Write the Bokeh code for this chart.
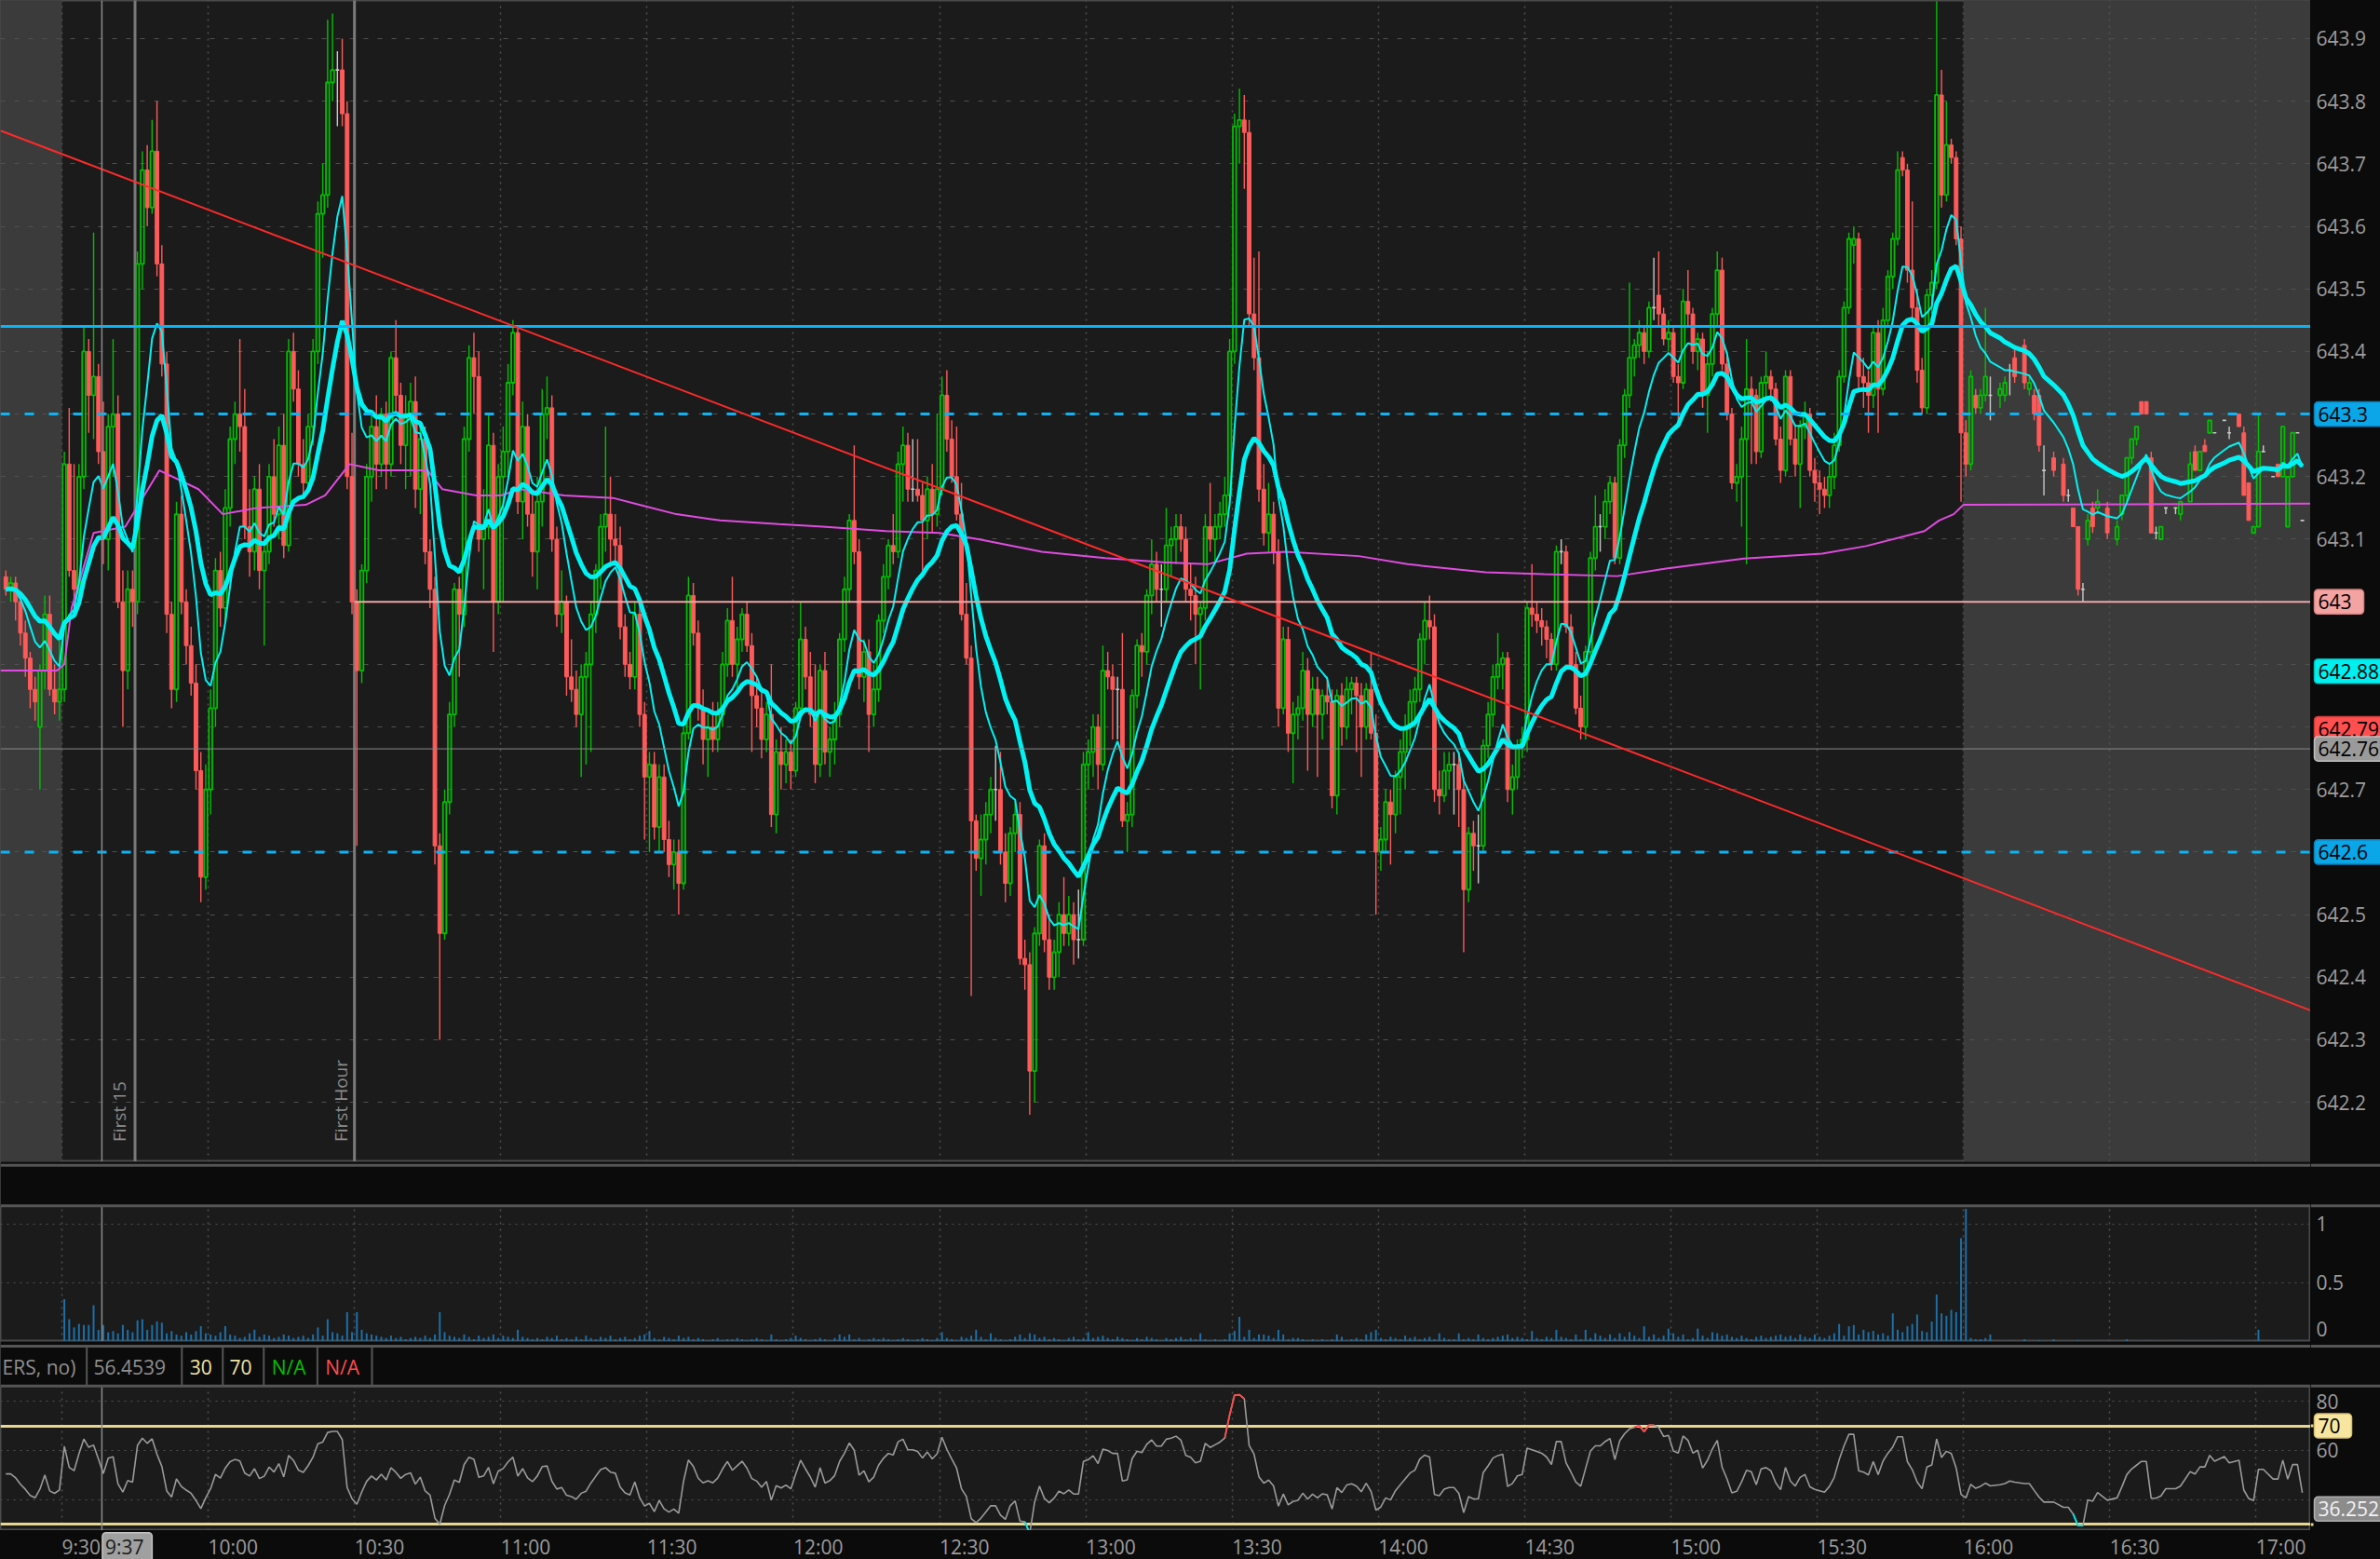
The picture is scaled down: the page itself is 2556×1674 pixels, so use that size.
import numpy as np
from bokeh.plotting import figure
from bokeh.layouts import column, row
from bokeh.models import Range1d, FixedTicker, Span
from bokeh.embed import file_html
from bokeh.resources import INLINE
from bokeh.core.properties import value

FONT = "Open Sans"

# ---------------- data (minutes counted from 9:30) ----------------
sess_minute = list(range(-12, 390))
sess_open = [
643.04,643.02,643.03,643.00,642.95,642.91,642.86,642.80,642.89,642.98,642.86,642.84,
642.86,643.22,643.05,643.02,643.20,643.40,643.33,643.36,643.24,643.10,
643.28,643.30,643.00,642.89,643.02,643.00,643.54,643.69,643.63,643.72,
643.54,643.38,642.98,642.86,643.14,643.00,642.93,642.87,642.73,642.56,
642.70,642.83,643.05,642.99,643.15,643.26,643.30,643.28,643.12,643.08,
643.18,643.05,643.08,643.20,643.14,643.25,643.09,643.40,643.34,643.22,
643.19,643.28,643.40,643.62,643.65,643.83,643.85,643.85,643.78,643.20,
643.00,642.89,643.05,643.20,643.28,643.22,643.30,643.22,643.39,643.33,
643.25,643.30,643.32,643.18,643.26,643.08,643.02,642.61,642.47,642.68,
642.82,643.02,642.98,643.26,643.39,643.36,643.10,643.12,643.25,643.00,
643.20,643.24,643.35,643.43,643.16,643.28,643.14,643.08,643.16,643.30,
643.31,643.10,642.98,643.00,642.88,642.86,642.82,642.88,642.90,642.98,
643.05,643.12,643.14,643.10,643.09,642.96,642.90,642.88,642.98,642.82,
642.72,642.74,642.64,642.72,642.62,642.58,642.60,642.55,642.79,643.01,
642.95,642.83,642.78,642.80,642.78,642.82,642.90,642.97,642.90,642.94,
642.98,642.93,642.85,642.83,642.78,642.82,642.66,642.76,642.74,642.76,
642.73,642.83,642.94,642.88,642.82,642.74,642.89,642.76,642.78,642.82,
642.94,643.02,643.13,643.08,642.88,642.92,642.82,642.86,642.97,643.04,
643.09,643.08,643.22,643.25,643.18,643.18,643.17,643.13,643.18,643.14,
643.18,643.33,643.26,643.20,643.14,642.98,642.91,642.65,642.59,642.62,
642.66,642.70,642.70,642.60,642.55,642.63,642.66,642.43,642.42,642.25,
642.47,642.61,642.46,642.40,642.44,642.50,642.47,642.50,642.46,642.46,
642.74,642.76,642.80,642.74,642.89,642.88,642.86,642.86,642.65,642.66,
642.85,642.93,642.92,643.01,643.06,643.02,643.02,643.09,643.10,643.12,
643.10,643.02,643.01,642.98,642.99,643.12,643.10,643.12,643.14,643.17,
643.40,643.76,643.77,643.75,643.46,643.39,643.18,643.11,643.14,643.08,
642.83,642.94,642.79,642.82,642.83,642.89,642.82,642.86,642.82,642.85,
642.84,642.69,642.85,642.80,642.86,642.87,642.85,642.80,642.86,642.79,
642.60,642.62,642.68,642.66,642.72,642.76,642.80,642.84,642.86,642.94,
642.97,642.96,642.70,642.69,642.73,642.74,642.74,642.70,642.54,642.63,
642.61,642.61,642.77,642.82,642.88,642.90,642.91,642.70,642.72,642.77,
642.78,642.99,642.98,642.97,642.96,642.94,642.90,643.08,643.08,642.96,
642.90,642.83,642.80,642.92,643.07,643.12,643.12,643.16,643.19,643.07,
643.25,643.33,643.39,643.41,643.43,643.40,643.47,643.49,643.46,643.42,
643.43,643.36,643.35,643.48,643.46,643.40,643.42,643.33,643.38,643.46,
643.53,643.38,643.30,643.19,643.20,643.26,643.34,643.33,643.24,643.35,
643.36,643.34,643.26,643.21,643.36,643.26,643.22,643.28,643.30,643.21,
643.19,643.18,643.17,643.20,643.25,643.36,643.47,643.57,643.58,643.36,
643.35,643.33,643.43,643.34,643.45,643.52,643.58,643.71,643.69,643.53,
643.47,643.37,643.31,643.49,643.51,643.81,643.65,643.73,643.71,643.58]
sess_high = [
643.05,643.04,643.04,643.01,642.97,642.92,642.88,642.90,643.01,643.01,642.90,642.94,
643.24,643.31,643.22,643.22,643.44,643.42,643.59,643.38,643.32,643.30,
643.42,643.33,643.05,643.05,643.05,643.56,643.72,643.73,643.77,643.80,
643.57,643.40,643.00,643.16,643.17,643.02,642.96,642.90,642.76,642.74,
642.86,643.07,643.08,643.18,643.28,643.32,643.42,643.34,643.18,643.20,
643.22,643.10,643.22,643.26,643.28,643.30,643.42,643.43,643.37,643.26,
643.30,643.42,643.64,643.70,643.93,643.94,643.88,643.90,643.80,643.27,
643.02,643.06,643.22,643.30,643.33,643.31,643.32,643.40,643.45,643.35,
643.33,643.35,643.36,643.28,643.28,643.10,643.04,642.63,642.70,642.84,
643.03,643.04,643.28,643.41,643.43,643.40,643.18,643.30,643.27,643.22,
643.28,643.38,643.45,643.44,643.32,643.30,643.18,643.20,643.34,643.36,
643.33,643.12,643.05,643.01,642.94,642.89,642.90,642.92,643.00,643.06,
643.14,643.28,643.20,643.14,643.12,642.98,642.92,643.00,643.00,642.84,
642.76,642.76,642.74,642.74,642.65,642.62,642.62,642.80,643.04,643.03,
642.97,642.86,642.82,642.84,642.84,642.92,642.99,643.04,642.96,642.99,
643.00,642.95,642.88,642.86,642.84,642.90,642.78,642.80,642.78,642.78,
642.84,643.00,642.96,642.92,642.90,642.90,642.92,642.80,642.84,642.95,
643.04,643.14,643.25,643.10,642.94,642.94,642.90,642.98,643.06,643.10,
643.14,643.24,643.28,643.27,643.26,643.26,643.19,643.20,643.22,643.30,
643.36,643.37,643.29,643.28,643.19,643.03,642.93,642.66,642.66,642.68,
642.72,642.77,642.76,642.63,642.64,642.68,642.68,642.46,642.44,642.48,
642.62,642.63,642.50,642.46,642.52,642.56,642.53,642.52,642.54,642.76,
642.78,642.82,642.82,642.93,642.92,642.90,642.88,642.95,642.68,642.86,
642.94,642.95,643.02,643.10,643.08,643.06,643.15,643.12,643.14,643.14,
643.12,643.06,643.04,643.00,643.14,643.19,643.14,643.16,643.20,643.42,
643.78,643.82,643.81,643.77,643.55,643.56,643.22,643.19,643.16,643.10,
642.96,642.96,642.84,642.85,642.92,642.91,642.88,642.88,642.86,642.88,
642.86,642.86,642.87,642.88,642.88,642.88,642.87,642.87,642.92,642.82,
642.64,642.70,642.70,642.73,642.78,642.82,642.86,642.88,642.95,643.00,
643.01,642.98,642.73,642.76,642.76,642.76,642.76,642.72,642.64,642.65,
642.66,642.78,642.84,642.90,642.95,642.92,642.92,642.74,642.78,642.80,
643.00,643.06,643.00,642.99,642.97,642.95,643.09,643.10,643.09,642.98,
642.92,642.85,642.93,643.08,643.17,643.14,643.18,643.20,643.20,643.26,
643.34,643.51,643.42,643.45,643.44,643.48,643.55,643.56,643.47,643.45,
643.44,643.38,643.50,643.53,643.47,643.43,643.43,643.40,643.47,643.56,
643.55,643.40,643.31,643.22,643.28,643.42,643.36,643.34,643.36,643.40,
643.37,643.35,643.28,643.37,643.37,643.28,643.29,643.32,643.31,643.23,
643.21,643.20,643.22,643.27,643.37,643.48,643.59,643.60,643.59,643.39,
643.37,643.44,643.45,643.47,643.53,643.59,643.72,643.72,643.70,643.64,
643.50,643.39,643.50,643.53,643.96,643.85,643.80,643.74,643.72,643.60]
sess_low = [
643.01,643.00,642.97,642.93,642.88,642.83,642.81,642.70,642.86,642.85,642.82,642.81,
642.84,643.04,642.98,643.00,643.18,643.27,643.26,643.22,643.06,643.05,
643.20,642.99,642.80,642.86,642.96,642.98,643.50,643.60,643.62,643.52,
643.36,642.95,642.83,642.84,642.98,642.90,642.85,642.70,642.52,642.54,
642.66,642.80,642.96,642.97,643.12,643.22,643.24,643.10,643.04,643.05,
643.02,642.93,643.06,643.12,643.10,643.07,643.08,643.32,643.20,643.17,
643.18,643.25,643.38,643.55,643.63,643.80,643.76,643.76,643.18,642.98,
642.61,642.87,643.03,643.16,643.18,643.20,643.18,643.20,643.30,643.22,
643.18,643.20,643.15,643.14,643.06,642.99,642.58,642.30,642.46,642.66,
642.80,642.88,642.96,643.24,643.30,643.08,643.02,643.10,642.92,642.98,
643.00,643.20,643.33,643.14,643.10,643.12,643.04,643.02,643.12,643.26,
643.08,642.96,642.95,642.85,642.84,642.80,642.72,642.74,642.76,642.95,
643.02,643.08,643.06,643.06,642.94,642.88,642.86,642.86,642.80,642.62,
642.60,642.62,642.60,642.60,642.56,642.54,642.50,642.54,642.78,642.93,
642.81,642.74,642.72,642.76,642.76,642.80,642.88,642.88,642.86,642.92,
642.92,642.76,642.80,642.75,642.76,642.64,642.63,642.70,642.71,642.70,
642.72,642.82,642.86,642.80,642.71,642.72,642.74,642.72,642.74,642.80,
642.92,643.00,643.06,642.86,642.84,642.76,642.80,642.84,642.95,643.02,
643.06,643.07,643.16,643.16,643.16,643.16,643.05,643.10,643.11,643.12,
643.17,643.24,643.19,643.13,642.97,642.90,642.37,642.57,642.53,642.58,
642.63,642.65,642.58,642.52,642.53,642.60,642.42,642.38,642.18,642.20,
642.45,642.44,642.38,642.38,642.40,642.45,642.45,642.42,642.43,642.45,
642.70,642.72,642.70,642.73,642.86,642.78,642.78,642.64,642.60,642.64,
642.83,642.88,642.90,642.98,643.00,642.96,643.00,643.04,643.06,643.08,
643.00,642.97,642.90,642.86,642.97,643.08,643.06,643.10,643.12,643.15,
643.38,643.70,643.66,643.44,643.37,643.16,643.09,643.08,643.06,642.80,
642.82,642.76,642.71,642.78,642.81,642.73,642.80,642.72,642.78,642.82,
642.67,642.66,642.77,642.78,642.82,642.76,642.72,642.78,642.78,642.50,
642.57,642.60,642.58,642.63,642.66,642.70,642.77,642.80,642.84,642.90,
642.94,642.68,642.66,642.68,642.70,642.66,642.64,642.44,642.52,642.57,
642.55,642.60,642.75,642.80,642.86,642.86,642.68,642.66,642.70,642.75,
642.76,642.96,642.95,642.93,642.91,642.89,642.89,643.06,642.95,642.89,
642.82,642.78,642.78,642.90,643.05,643.08,643.10,643.14,643.06,643.06,
643.23,643.31,643.36,643.39,643.38,643.39,643.45,643.44,643.41,643.40,
643.35,643.28,643.34,643.44,643.38,643.37,643.31,643.27,643.36,643.44,
643.37,643.29,643.18,643.16,643.12,643.06,643.22,643.22,643.23,643.32,
643.32,643.25,643.19,643.20,643.25,643.20,643.15,643.26,643.20,643.16,
643.14,643.15,643.15,643.18,643.24,643.35,643.46,643.54,643.34,643.31,
643.27,643.31,643.27,643.33,643.44,643.50,643.57,643.68,643.51,643.45,
643.35,643.30,643.30,643.46,643.50,643.63,643.64,643.70,643.57,643.16]
sess_close = [
643.02,643.03,643.00,642.95,642.91,642.86,642.84,642.89,642.98,642.86,642.84,642.86,
643.22,643.05,643.02,643.20,643.40,643.33,643.36,643.24,643.10,643.28,
643.30,643.00,642.89,643.02,643.00,643.54,643.69,643.63,643.72,643.54,
643.38,642.98,642.86,643.14,643.00,642.93,642.87,642.73,642.56,642.70,
642.83,643.05,642.99,643.15,643.26,643.30,643.28,643.12,643.08,643.18,
643.05,643.08,643.20,643.14,643.25,643.09,643.40,643.34,643.22,643.19,
643.28,643.40,643.62,643.65,643.83,643.85,643.85,643.78,643.20,643.00,
642.89,643.05,643.20,643.28,643.22,643.30,643.22,643.39,643.33,643.25,
643.30,643.32,643.18,643.26,643.08,643.02,642.61,642.47,642.68,642.82,
643.02,642.98,643.26,643.39,643.36,643.10,643.12,643.25,643.00,643.20,
643.24,643.35,643.43,643.16,643.28,643.14,643.08,643.16,643.30,643.31,
643.10,642.98,643.00,642.88,642.86,642.82,642.88,642.90,642.98,643.05,
643.12,643.14,643.10,643.09,642.96,642.90,642.88,642.98,642.82,642.72,
642.74,642.64,642.72,642.62,642.58,642.60,642.55,642.79,643.01,642.95,
642.83,642.78,642.80,642.78,642.82,642.90,642.97,642.90,642.94,642.98,
642.93,642.85,642.83,642.78,642.82,642.66,642.76,642.74,642.76,642.73,
642.83,642.94,642.88,642.82,642.74,642.89,642.76,642.78,642.82,642.94,
643.02,643.13,643.08,642.88,642.92,642.82,642.86,642.97,643.04,643.09,
643.08,643.22,643.25,643.18,643.18,643.17,643.13,643.18,643.14,643.18,
643.33,643.26,643.20,643.14,642.98,642.91,642.65,642.59,642.62,642.66,
642.70,642.70,642.60,642.55,642.63,642.66,642.43,642.42,642.25,642.47,
642.61,642.46,642.40,642.44,642.50,642.47,642.50,642.46,642.46,642.74,
642.76,642.80,642.74,642.89,642.88,642.86,642.86,642.65,642.66,642.85,
642.93,642.92,643.01,643.06,643.02,643.02,643.09,643.10,643.12,643.10,
643.02,643.01,642.98,642.99,643.12,643.10,643.12,643.14,643.17,643.40,
643.76,643.77,643.75,643.46,643.39,643.18,643.11,643.14,643.08,642.83,
642.94,642.79,642.82,642.83,642.89,642.82,642.86,642.82,642.85,642.84,
642.69,642.85,642.80,642.86,642.87,642.85,642.80,642.86,642.79,642.60,
642.62,642.68,642.66,642.72,642.76,642.80,642.84,642.86,642.94,642.97,
642.96,642.70,642.69,642.73,642.74,642.74,642.70,642.54,642.63,642.61,
642.61,642.77,642.82,642.88,642.90,642.91,642.70,642.72,642.77,642.78,
642.99,642.98,642.97,642.96,642.94,642.90,643.08,643.08,642.96,642.90,
642.83,642.80,642.92,643.07,643.12,643.12,643.16,643.19,643.07,643.25,
643.33,643.39,643.41,643.43,643.40,643.47,643.47,643.46,643.42,643.43,
643.36,643.35,643.48,643.46,643.40,643.42,643.33,643.38,643.46,643.53,
643.38,643.30,643.19,643.20,643.26,643.34,643.33,643.24,643.35,643.36,
643.34,643.26,643.21,643.36,643.26,643.22,643.28,643.30,643.21,643.19,
643.18,643.17,643.20,643.25,643.36,643.47,643.58,643.58,643.36,643.35,
643.33,643.43,643.34,643.45,643.52,643.58,643.69,643.69,643.53,643.47,
643.37,643.31,643.49,643.51,643.81,643.65,643.73,643.71,643.58,643.27]

ah_minute = [390,391,392,393,394,395,397,398,399,400,402,403,404,405,406,408,
             410,411,412,413,414,415,416,417,419,421,422,423,424,425,426,427,428,429,430,431,
             433,434,436,437,438,439,440,441,443,444,446,447,448,449,450,451,
             453,454,455,456,457,458,459]
ah_open = [643.27,643.22,643.33,643.31,643.33,643.33,643.33,643.33,643.37,643.39,643.41,643.34,643.33,643.33,643.21,643.23,
           643.22,643.17,643.15,643.12,643.02,643.10,643.15,643.15,643.15,643.10,643.14,643.17,643.23,643.26,643.32,643.32,643.23,643.11,643.10,643.15,
           643.15,643.14,643.16,643.24,643.21,643.25,643.27,643.27,643.29,643.27,643.30,643.27,643.19,643.11,643.12,643.24,
           643.20,643.22,643.20,643.12,643.20,643.27,643.13]
ah_high = [643.29,643.37,643.34,643.34,643.47,643.36,643.35,643.36,643.38,643.41,643.42,643.36,643.34,643.34,643.25,643.24,
           643.23,643.18,643.15,643.12,643.03,643.14,643.16,643.18,643.16,643.13,643.17,643.23,643.26,643.28,643.32,643.32,643.24,643.12,643.12,643.15,
           643.15,643.16,643.24,643.25,643.24,643.26,643.29,643.27,643.29,643.28,643.30,643.28,643.19,643.12,643.30,643.25,
           643.20,643.22,643.28,643.20,643.27,643.27,643.13]
ah_low = [643.20,643.21,643.30,643.30,643.32,643.29,643.31,643.32,643.33,643.35,643.34,643.33,643.29,643.24,643.17,643.20,
          643.16,643.16,643.12,643.01,643.00,643.09,643.11,643.14,643.10,643.09,643.13,643.16,643.22,643.25,643.30,643.30,643.11,643.10,643.10,643.14,
          643.14,643.13,643.16,643.21,643.21,643.24,643.27,643.27,643.29,643.26,643.28,643.17,643.13,643.11,643.12,643.24,
          643.20,643.20,643.20,643.12,643.20,643.27,643.13]
ah_close = [643.22,643.36,643.31,643.33,643.36,643.33,643.34,643.35,643.37,643.36,643.35,643.35,643.30,643.25,643.21,643.21,
            643.17,643.17,643.12,643.02,643.02,643.13,643.12,643.16,643.11,643.12,643.17,643.23,643.26,643.28,643.30,643.30,643.11,643.11,643.12,643.15,
            643.15,643.16,643.22,643.21,643.24,643.24,643.29,643.27,643.29,643.27,643.28,643.17,643.13,643.12,643.24,643.24,
            643.20,643.20,643.28,643.20,643.27,643.27,643.13]

# volume (RTH 9:30..15:59, then after hours), axis units as on the chart
rth_volume = [
0.36,0.19,0.12,0.15,0.14,0.14,0.31,0.10,0.14,0.08,
0.09,0.07,0.14,0.10,0.08,0.18,0.19,0.10,0.14,0.17,
0.16,0.07,0.09,0.06,0.05,0.08,0.06,0.09,0.13,0.07,
0.06,0.05,0.08,0.13,0.06,0.05,0.03,0.04,0.07,0.10,
0.04,0.06,0.05,0.03,0.04,0.06,0.05,0.03,0.04,0.05,
0.03,0.06,0.12,0.05,0.19,0.08,0.07,0.05,0.25,0.08,
0.25,0.10,0.07,0.06,0.05,0.04,0.03,0.05,0.03,0.04,
0.02,0.03,0.04,0.03,0.05,0.03,0.06,0.25,0.08,0.05,
0.04,0.03,0.06,0.04,0.02,0.05,0.03,0.04,0.06,0.03,
0.05,0.04,0.03,0.10,0.04,0.03,0.02,0.03,0.02,0.04,
0.03,0.05,0.02,0.03,0.02,0.04,0.02,0.05,0.03,0.02,
0.04,0.03,0.05,0.02,0.03,0.04,0.02,0.03,0.05,0.06,
0.09,0.03,0.02,0.04,0.03,0.02,0.05,0.03,0.04,0.02,
0.03,0.02,0.01,0.02,0.03,0.01,0.02,0.02,0.03,0.02,
0.01,0.02,0.03,0.02,0.01,0.06,0.02,0.01,0.02,0.03,
0.05,0.03,0.02,0.01,0.02,0.03,0.02,0.01,0.03,0.06,
0.04,0.06,0.02,0.03,0.01,0.02,0.03,0.02,0.03,0.02,
0.01,0.02,0.03,0.02,0.01,0.02,0.03,0.02,0.01,0.03,
0.08,0.03,0.02,0.01,0.04,0.03,0.05,0.10,0.04,0.02,
0.07,0.03,0.02,0.01,0.02,0.04,0.06,0.03,0.07,0.06,
0.03,0.04,0.02,0.03,0.02,0.01,0.03,0.04,0.02,0.03,
0.08,0.03,0.04,0.05,0.03,0.02,0.04,0.03,0.02,0.01,
0.03,0.02,0.04,0.03,0.02,0.01,0.03,0.02,0.03,0.04,
0.02,0.03,0.02,0.07,0.02,0.01,0.02,0.01,0.02,0.07,
0.09,0.21,0.04,0.10,0.03,0.06,0.06,0.05,0.03,0.10,
0.06,0.02,0.03,0.03,0.02,0.01,0.02,0.01,0.02,0.01,
0.02,0.06,0.04,0.01,0.02,0.03,0.02,0.06,0.08,0.10,
0.03,0.02,0.04,0.03,0.02,0.05,0.03,0.04,0.02,0.03,
0.04,0.02,0.07,0.03,0.02,0.02,0.07,0.02,0.03,0.02,
0.06,0.03,0.02,0.03,0.04,0.05,0.06,0.03,0.04,0.03,
0.02,0.09,0.03,0.02,0.04,0.03,0.10,0.04,0.03,0.02,
0.06,0.02,0.10,0.03,0.07,0.05,0.03,0.06,0.03,0.07,
0.04,0.08,0.05,0.03,0.13,0.04,0.06,0.03,0.05,0.11,
0.07,0.04,0.06,0.02,0.03,0.11,0.05,0.03,0.08,0.07,
0.05,0.06,0.04,0.03,0.05,0.03,0.02,0.04,0.05,0.03,
0.04,0.05,0.06,0.04,0.05,0.03,0.06,0.04,0.03,0.06,
0.04,0.03,0.05,0.07,0.15,0.05,0.13,0.14,0.06,0.10,
0.08,0.09,0.06,0.07,0.05,0.24,0.10,0.08,0.13,0.15,
0.23,0.09,0.08,0.17,0.40,0.24,0.22,0.27,0.25,0.88]
ah_volume = [1.13,0.03,0.02,0.02,0.03,0.06,0.005,0.005,0.005,0.005,0.02,0.005,0.005,0.01,0.005,0.02,
             0.005,0.005,0.005,0.01,0.005,0.005,0.005,0.005,0.005,0.005,0.005,0.02,0.005,0.005,0.005,0.005,0.005,0.005,0.005,0.005,
             0.005,0.005,0.005,0.005,0.005,0.005,0.005,0.005,0.005,0.005,0.005,0.005,0.005,0.005,0.10,0.005,
             0.005,0.005,0.005,0.005,0.005,0.005,0.005]

# VWAP line
vwap_minute = [-12.6,-1,0.5,2,6.5,13,20,28,33,40,50,54,59,65,75,78,85,90,94,103,113,119,126,135,147,
               156,169,180,188,201,214,226,235,243,251,266,276,292,304,319,329,345,361,370,382,385,388,390,461.2]
vwap_value = [642.89,642.89,642.90,642.99,643.11,643.12,643.21,643.18,643.14,643.15,643.155,643.17,643.22,643.21,
              643.21,643.18,643.17,643.17,643.18,643.17,643.166,643.154,643.14,643.13,643.124,643.12,643.113,643.11,
              643.10,643.08,643.07,643.063,643.06,643.077,643.08,643.073,643.06,643.047,643.044,643.041,643.053,
              643.069,643.077,643.089,643.113,643.13,643.14,643.155,643.157]

# drawings
trend_minute = [-12.6, 461.2]
trend_price = [643.753, 642.347]
level_solid = 643.44
level_dashed = [643.3, 642.6]
level_pink = 643.0
level_pink_start = 60
level_gray = 642.765

half_hours = [0, 30, 60, 90, 120, 150, 180, 210, 240, 270, 300, 330, 360, 390, 420, 450]
time_labels = ["9:30", "10:00", "10:30", "11:00", "11:30", "12:00", "12:30", "13:00", "13:30",
               "14:00", "14:30", "15:00", "15:30", "16:00", "16:30", "17:00"]
price_ticks_all = [642.2, 642.3, 642.4, 642.5, 642.6, 642.7, 642.8, 642.9, 643.0,
                   643.1, 643.2, 643.3, 643.4, 643.5, 643.6, 643.7, 643.8, 643.9]
price_ticks_shown = [642.2, 642.3, 642.4, 642.5, 642.7, 643.1, 643.2, 643.4,
                     643.5, 643.6, 643.7, 643.8, 643.9]
price_tick_text = ["642.2", "642.3", "642.4", "642.5", "642.7", "643.1", "643.2", "643.4",
                   "643.5", "643.6", "643.7", "643.8", "643.9"]
# value boxes on the price scale: (value, text, fill, text colour, border, right edge px)
price_boxes = [
    (643.3, "643.3", "#0aa6e8", "#000000", "#0a80b8", 90),
    (643.0, "643", "#f4a3a3", "#000000", "#d98080", 57),
    (642.889, "642.88", "#00f0f0", "#000000", "#00c0c0", 90),
    (642.797, "642.79", "#ff4f4f", "#000000", "#d03a3a", 90),
    (642.765, "642.76", "#9a9a9a", "#000000", "#c0c0c0", 90),
    (642.6, "642.6", "#0aa6e8", "#000000", "#0a80b8", 90),
]
vol_ticks = [0.5, 1.0]
vol_tick_text = ["0.5", "1"]
rsi_ticks = [60, 80]
rsi_tick_text = ["60", "80"]
rsi_boxes = [
    (70, "70", "#f8e6a0", "#000000", "#d8c070", 44),
    (36.252, "36.252", "#8c8c8c", "#f2f2f2", "#b0b0b0", 90),
]

# ---------------- derived series ----------------
minute = np.array(sess_minute + ah_minute, dtype=float)
o = np.array(sess_open + ah_open)
h = np.array(sess_high + ah_high)
l = np.array(sess_low + ah_low)
c = np.array(sess_close + ah_close)
xc = minute + 0.5


def ema(vals, n):
    a = 2.0 / (n + 1)
    out = [vals[0]]
    for v in vals[1:]:
        out.append(out[-1] + a * (v - out[-1]))
    return np.array(out)


def wilder_rsi(vals, n=14):
    d = np.diff(vals)
    g = np.clip(d, 0, None)
    ls = np.clip(-d, 0, None)
    ag, al = g[:n].mean(), ls[:n].mean()
    out = [np.nan]
    for gi, li in zip(g, ls):
        ag = (ag * (n - 1) + gi) / n
        al = (al * (n - 1) + li) / n
        out.append(100.0 if al == 0 else 100 - 100 / (1 + ag / al))
    out[0] = out[1]
    return np.array(out)


ema_fast = ema(c, 9)
ema_slow = ema(c, 21)
rsi_v = wilder_rsi(c)

# ---------------- layout constants ----------------
X0, X1 = -12.6, 461.2
WF = 2481          # plot frame width
WA = 75            # price-scale column width
BG = "#1b1b1b"
EDGE = "#0b0b0b"
GRIDC = "#505050"
AXC = "#9c9c9c"
SEP = "#555555"
xr = Range1d(X0, X1)


def panel(h_px, yr):
    p = figure(width=WF, height=h_px, x_range=xr, y_range=yr,
               output_backend="svg", toolbar_location=None,
               x_axis_location=None, y_axis_location=None, min_border=0,
               background_fill_color=BG, border_fill_color=EDGE,
               outline_line_color="#4a4a4a", outline_line_width=2)
    p.xgrid.ticker = FixedTicker(ticks=half_hours)
    p.xgrid.grid_line_color = GRIDC
    p.xgrid.grid_line_dash = "2 5"
    p.xgrid.grid_line_width = 1.5
    return p


def scale_col(h_px, yr):
    p = figure(width=WA, height=h_px, x_range=Range1d(0, WA), y_range=yr,
               output_backend="svg", toolbar_location=None,
               x_axis_location=None, y_axis_location=None, min_border=0,
               background_fill_color=EDGE, border_fill_color=EDGE, outline_line_color=None)
    p.grid.visible = False
    return p


def scale_text(p, ys, texts, size="21px", x=6, color=AXC, baseline="middle"):
    p.text(x=[x] * len(ys), y=ys, text=texts, text_color=color, text_align="left",
           text_baseline=baseline, text_font=value(FONT), text_font_size=size)


def scale_boxes(p, boxes, half_h):
    for v, t, fill, tc, bc, right in boxes:
        p.quad(left=[4], right=[right], bottom=[v - half_h], top=[v + half_h],
               fill_color=fill, line_color=bc, line_width=1.5, border_radius=4)
        p.text(x=[8], y=[v], text=[t], text_color=tc, text_align="left",
               text_baseline="middle", text_font=value(FONT), text_font_size="21px")


# ---------------- main price panel ----------------
yr_main = Range1d(642.105, 643.961)
pm = panel(1247, yr_main)
pm.ygrid.ticker = FixedTicker(ticks=price_ticks_all)
pm.ygrid.grid_line_color = GRIDC
pm.ygrid.grid_line_dash = "5 10"

pm.quad(left=[X0, 390], right=[0, X1], bottom=[642.0, 642.0], top=[644.1, 644.1],
        fill_color="#3b3b3b", line_color=None, level="image")

pm.segment(x0=[15, 60], y0=[642.0, 642.0], x1=[15, 60], y1=[644.1, 644.1],
           line_color="#7a7a7a", line_width=3)
pm.add_layout(Span(location=8.2, dimension="height", line_color="#8a8a8a", line_width=1.5))
pm.text(x=[14.3, 59.7], y=[642.137, 642.137], text=["First 15", "First Hour"],
        angle=np.pi / 2, text_align="left", text_baseline="bottom",
        text_font=value(FONT), text_font_size="19px", text_color="#8c8c8c")

top_b = np.maximum(o, c)
bot_b = np.minimum(o, c)
wick_col = np.where(c > o, "#00c000", np.where(c < o, "#ff5a5a", "#c8c8c8")).tolist()
pm.segment(x0=xc, y0=top_b, x1=xc, y1=h, line_width=1.4, line_color=wick_col)
pm.segment(x0=xc, y0=bot_b, x1=xc, y1=l, line_width=1.4, line_color=wick_col)
up = c > o
dn = c < o
dj = c == o
pm.vbar(x=xc[dn], bottom=bot_b[dn], top=top_b[dn], width=0.74,
        fill_color="#ff5a5a", line_color="#ff5a5a", line_width=1)
pm.vbar(x=xc[up], bottom=bot_b[up], top=top_b[up], width=0.68,
        fill_alpha=0, line_color="#00c000", line_width=1.8)
pm.vbar(x=xc[dj], bottom=bot_b[dj], top=top_b[dj], width=0.74,
        fill_color="#c8c8c8", line_color="#c8c8c8", line_width=1.6)

pm.line(vwap_minute, vwap_value, line_color="#e04ce0", line_width=2)
pm.line(xc, ema_slow, line_color="#00f2f2", line_width=5)
pm.line(xc, ema_fast, line_color="#00f2f2", line_width=2)

pm.line([X0, X1], [level_solid, level_solid], line_color="#0ab4f5", line_width=3)
for lv in level_dashed:
    pm.line([X0, X1], [lv, lv], line_color="#0ab4f5", line_width=3, line_dash="10 16")
pm.line([level_pink_start, X1], [level_pink, level_pink], line_color="#f2a6a6", line_width=2)
pm.line([X0, X1], [level_gray, level_gray], line_color="#8a8a8a", line_width=1)
pm.line(trend_minute, trend_price, line_color="#ff2a2a", line_width=2)

am = scale_col(1247, yr_main)
scale_text(am, price_ticks_shown, price_tick_text)
scale_boxes(am, price_boxes, 0.0195)

# ---------------- volume panel ----------------
yr_vol = Range1d(0, 1.53)
pv = panel(193, yr_vol)
pv.ygrid.ticker = FixedTicker(ticks=[0.5, 1])
pv.ygrid.grid_line_color = GRIDC
pv.ygrid.grid_line_dash = "2 5"
vol_minute = np.array(list(range(0, 390)) + ah_minute, dtype=float)
vol_vals = np.array(rth_volume + ah_volume)
pv.quad(left=[X0], right=[X1], bottom=[1.15], top=[1.6], fill_color=EDGE, line_color=None)
pv.vbar(x=vol_minute + 0.5, top=vol_vals, width=0.38, fill_color="#1d6fa8", line_color=None)
pv.segment(x0=[8.2], y0=[0], x1=[8.2], y1=[1.15], line_color="#8a8a8a", line_width=1.5)
pv.add_layout(Span(location=1.155, dimension="width", line_color=SEP, line_width=3))
pv.add_layout(Span(location=1.50, dimension="width", line_color=SEP, line_width=3))

av = scale_col(193, yr_vol)
av.add_layout(Span(location=1.155, dimension="width", line_color=SEP, line_width=3))
av.add_layout(Span(location=1.50, dimension="width", line_color=SEP, line_width=3))
scale_text(av, vol_ticks, vol_tick_text)
scale_text(av, [0.11], ["0"], baseline="middle")

# ---------------- RSI panel ----------------
yr_rsi = Range1d(27.5, 104.2)
pr = panel(203, yr_rsi)
pr.ygrid.ticker = FixedTicker(ticks=[40, 60, 80])
pr.ygrid.grid_line_color = GRIDC
pr.ygrid.grid_line_dash = "2 5"
pr.quad(left=[X0], right=[X1], bottom=[86.0], top=[110], fill_color=EDGE, line_color=None)
pr.hspan(y=[30, 70], line_color="#e8d68e", line_width=3)
pr.segment(x0=[8.2], y0=[27.5], x1=[8.2], y1=[86.0], line_color="#8a8a8a", line_width=1.5)
pr.line(xc, rsi_v, line_color="#9a9a9a", line_width=1.6)
hi_mask = rsi_v >= 70
hi_ext = hi_mask | np.r_[hi_mask[1:], False]
lo_mask = rsi_v <= 30
lo_ext = lo_mask | np.r_[lo_mask[1:], False]
pr.line(xc, np.where(hi_ext, rsi_v, np.nan), line_color="#ff4a4a", line_width=1.8)
pr.line(xc, np.where(lo_ext, rsi_v, np.nan), line_color="#00e6e6", line_width=1.8)

hdr_x = [X0 + 0.4, 6.5, 26.2, 34.4, 43.0, 54.0]
hdr_text = ["ERS, no)", "56.4539", "30", "70", "N/A", "N/A"]
hdr_color = ["#8f8f8f", "#8f8f8f", "#f3e3a3", "#f3e3a3", "#00c000", "#ff4a4a"]
hdr_div = [5.1, 24.6, 33.0, 41.4, 52.4, 63.6]
pr.add_layout(Span(location=102.3, dimension="width", line_color=SEP, line_width=3))
pr.add_layout(Span(location=86.2, dimension="width", line_color=SEP, line_width=3))
pr.segment(x0=hdr_div, y0=[86.2] * 6, x1=hdr_div, y1=[102.3] * 6, line_color=SEP, line_width=2)
pr.text(x=hdr_x, y=[93.8] * 6, text=hdr_text, text_color=hdr_color, text_align="left",
        text_baseline="middle", text_font=value(FONT), text_font_size="21px")

ar = scale_col(203, yr_rsi)
ar.add_layout(Span(location=102.3, dimension="width", line_color=SEP, line_width=3))
ar.add_layout(Span(location=86.2, dimension="width", line_color=SEP, line_width=3))
ar.segment(x0=[0], y0=[70], x1=[3], y1=[70], line_color="#e8d68e", line_width=3)
ar.segment(x0=[0], y0=[30], x1=[3], y1=[30], line_color="#e8d68e", line_width=3)
scale_text(ar, rsi_ticks, rsi_tick_text)
scale_boxes(ar, rsi_boxes, 4.9)

# ---------------- time scale strip ----------------
pt = figure(width=WF, height=31, x_range=xr, y_range=Range1d(0, 1), output_backend="svg",
            toolbar_location=None, x_axis_location=None, y_axis_location=None, min_border=0,
            background_fill_color=EDGE, border_fill_color=EDGE, outline_line_color=None)
pt.grid.visible = False
pt.text(x=half_hours, y=[0.42] * len(half_hours), text=time_labels, text_color=AXC,
        text_align="left", text_baseline="middle", text_font=value(FONT), text_font_size="21px")
pt.quad(left=[8.3], right=[18.5], bottom=[-0.2], top=[0.93], fill_color="#a0a0a0",
        line_color="#c4c4c4", line_width=1.5, border_radius=4)
pt.text(x=[8.9], y=[0.42], text=["9:37"], text_color="#1b1b1b", text_align="left",
        text_baseline="middle", text_font=value(FONT), text_font_size="21px")

at = scale_col(31, Range1d(0, 1))
at.quad(left=[0], right=[1], bottom=[0], top=[0.01], fill_color=EDGE, line_color=None)

layout = column(row(pm, am, spacing=0), row(pv, av, spacing=0),
                row(pr, ar, spacing=0), row(pt, at, spacing=0), spacing=0)
layout.styles = {"background-color": EDGE}

TEMPLATE = "{% block postamble %}<style>html, body { background-color: #0b0b0b; }</style>{% endblock %}"
open("out.html", "w").write(file_html(layout, INLINE, title="chart", template=TEMPLATE))
